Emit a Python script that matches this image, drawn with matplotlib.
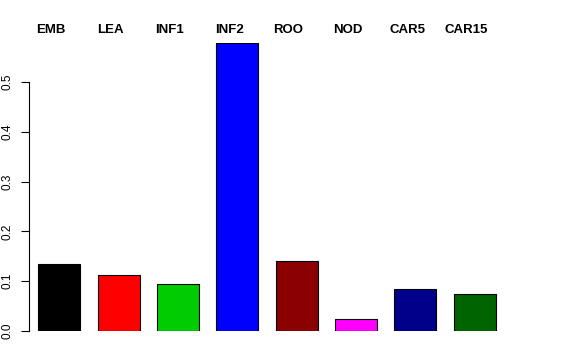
import matplotlib
matplotlib.use('Agg')
import matplotlib.pyplot as plt

# data
tissues = ['EMB', 'LEA', 'INF1', 'INF2', 'ROO', 'NOD', 'CAR5', 'CAR15']
values = [0.1345, 0.112, 0.095, 0.579, 0.140, 0.0235, 0.0837, 0.0737]
colors = ['black', 'red', '#00CD00', 'blue', '#8B0000', 'magenta', '#00008B', '#006400']

plt.rcParams['font.family'] = ['Liberation Sans', 'DejaVu Sans']

W, H = 576, 360
fig = plt.figure(figsize=(W / 100, H / 100), dpi=100)

# axes placed in pixels (R style plot region)
px_left, px_right = 29, 540
px_bottom, px_top = 331, 42.7
ax = fig.add_axes([px_left / W, (H - px_bottom) / H,
                   (px_right - px_left) / W, (px_bottom - px_top) / H])

pitch = 59.33
first_center = 59.3
x = list(range(len(tissues)))
ax.bar(x, values, width=0.708, color=colors, edgecolor='black', linewidth=0.8)

ax.set_xlim((px_left - first_center) / pitch, (px_right - first_center) / pitch)
ax.set_ylim(0, 0.579)

for s in ['top', 'right', 'bottom']:
    ax.spines[s].set_visible(False)
ax.spines['left'].set_bounds(0, 0.5)
ax.spines['left'].set_linewidth(0.8)

yt = [0.0, 0.1, 0.2, 0.3, 0.4, 0.5]
ax.set_yticks(yt)
ax.set_yticklabels(['%.1f' % v for v in yt], rotation=90, va='center', fontsize=8.5)
ax.tick_params(axis='y', length=5.5, width=0.8, pad=5.5)
ax.set_xticks([])

# labels above the bars, ~30 px from the top
trans = matplotlib.transforms.blended_transform_factory(ax.transData, fig.transFigure)
for i, name in enumerate(tissues):
    ax.text(i - 8 / pitch, (H - 29.7) / H, name, transform=trans,
            ha='center', va='center', fontsize=9.5, fontweight='bold')

fig.savefig('out.png', dpi=100)
